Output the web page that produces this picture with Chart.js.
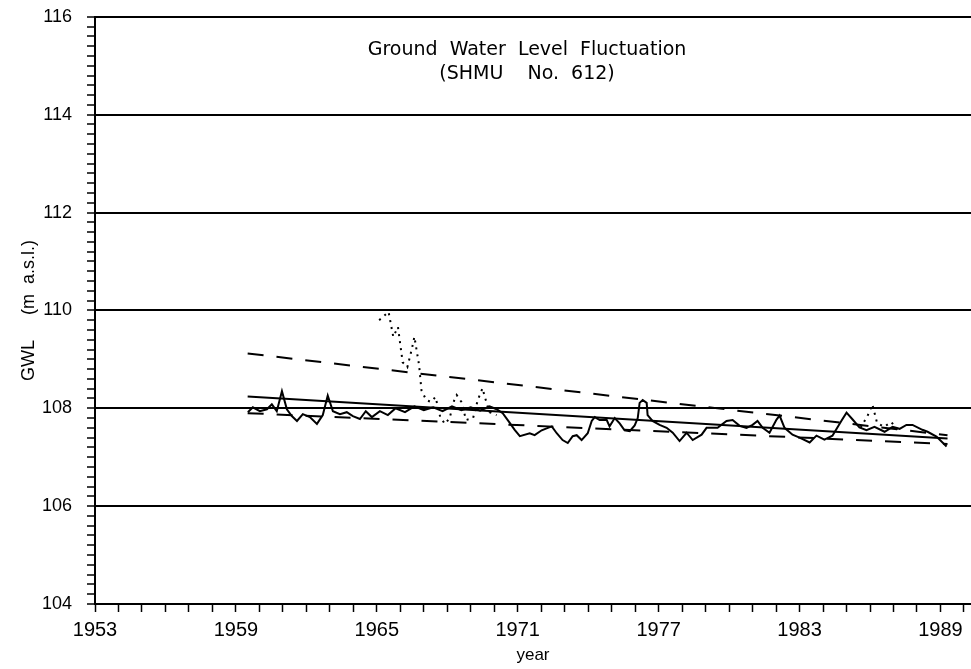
<!DOCTYPE html>
<html>
<head>
<meta charset="utf-8">
<script src="https://cdn.jsdelivr.net/npm/chart.js@4/dist/chart.umd.min.js"></script>
<style>
  html, body { margin: 0; padding: 0; background: #fff; }
  #wrap { width: 971px; height: 669px; }
</style>
</head>
<body>
<div id="wrap"><canvas id="gwlChart" width="971" height="669"></canvas></div>
<script>
// observed level (solid line)
const gwlYears = [
  1959.51, 1959.72, 1960.02, 1960.32, 1960.53, 1960.74, 1960.96, 1961.17, 1961.38, 1961.60,
  1961.85, 1962.15, 1962.45, 1962.70, 1962.91, 1963.13, 1963.43, 1963.72, 1963.98, 1964.28,
  1964.53, 1964.79, 1965.13, 1965.47, 1965.80, 1966.20, 1966.60, 1967.00, 1967.40, 1967.80,
  1968.20, 1968.60, 1969.00, 1969.40, 1969.80, 1970.10, 1970.36, 1970.66, 1970.87, 1971.09,
  1971.51, 1971.72, 1972.02, 1972.23, 1972.45, 1972.66, 1972.91, 1973.13, 1973.34, 1973.51,
  1973.72, 1973.98, 1974.15, 1974.28, 1974.49, 1974.79, 1974.91, 1975.13, 1975.34, 1975.55,
  1975.77, 1975.98, 1976.11, 1976.19, 1976.32, 1976.49, 1976.53, 1976.74, 1977.04, 1977.34,
  1977.60, 1977.89, 1978.19, 1978.45, 1978.83, 1979.04, 1979.51, 1979.89, 1980.15, 1980.45,
  1980.74, 1981.00, 1981.21, 1981.43, 1981.72, 1982.02, 1982.15, 1982.36, 1982.70, 1983.00,
  1983.43, 1983.72, 1984.06, 1984.40, 1984.79, 1985.00, 1985.26, 1985.55, 1985.85, 1986.19,
  1986.62, 1986.96, 1987.26, 1987.55, 1987.81, 1988.23, 1988.45, 1988.83, 1989.26
];
const gwlLevels = [
  107.92, 108.02, 107.94, 107.98, 108.08, 107.94, 108.35, 107.98, 107.84, 107.74,
  107.88, 107.82, 107.68, 107.86, 108.26, 107.94, 107.88, 107.92, 107.84, 107.78,
  107.94, 107.82, 107.94, 107.86, 108.00, 107.92, 108.04, 107.96, 108.02, 107.94,
  108.04, 107.96, 108.02, 107.95, 108.04, 107.98, 107.90, 107.70, 107.56, 107.43,
  107.49, 107.45, 107.55, 107.59, 107.63, 107.49, 107.35, 107.29, 107.43, 107.45,
  107.35, 107.49, 107.74, 107.82, 107.76, 107.76, 107.63, 107.80, 107.69, 107.55,
  107.53, 107.65, 107.80, 108.11, 108.17, 108.11, 107.86, 107.74, 107.66, 107.60,
  107.50, 107.33, 107.50, 107.35, 107.46, 107.60, 107.60, 107.74, 107.76, 107.64,
  107.60, 107.66, 107.74, 107.60, 107.50, 107.77, 107.85, 107.60, 107.46, 107.40,
  107.30, 107.44, 107.36, 107.44, 107.75, 107.91, 107.77, 107.61, 107.55, 107.62,
  107.52, 107.62, 107.58, 107.66, 107.66, 107.56, 107.52, 107.42, 107.22
];

// dotted record, 1965-1970
const dotYears = [
  1965.1, 1965.5, 1965.7, 1965.9, 1966.1, 1966.3, 1966.5, 1966.6, 1966.8, 1966.9,
  1967.1, 1967.3, 1967.5, 1967.7, 1967.9, 1968.1, 1968.3, 1968.4, 1968.6, 1968.8,
  1969.1, 1969.3, 1969.5, 1969.6, 1969.8, 1970.1
];
const dotLevels = [
  109.80, 109.97, 109.46, 109.66, 108.94, 108.84, 109.23, 109.46, 108.88, 108.37,
  108.17, 108.13, 108.23, 107.82, 107.68, 107.80, 108.17, 108.27, 108.13, 107.76,
  107.80, 108.17, 108.41, 108.23, 107.92, 107.86
];

// dotted record, 1985-1987
const dotYearsLate = [1985.6, 1985.9, 1986.1, 1986.3, 1986.6, 1986.9, 1987.2];
const dotLevelsLate = [107.60, 107.85, 108.08, 107.70, 107.62, 107.72, 107.55];

// trend lines
const trendYears = [1959.5, 1989.3];
const upperTrend = [109.12, 107.45];
const midTrend = [108.24, 107.38];
const lowerTrend = [107.90, 107.27];

const xTickYears = [1953, 1959, 1965, 1971, 1977, 1983, 1989];
const yTickLevels = [104, 106, 108, 110, 112, 114, 116];

const titleLines = ['Ground  Water  Level  Fluctuation', '(SHMU    No.  612)'];

Chart.defaults.font.family = "'Liberation Sans', 'DejaVu Sans', sans-serif";
Chart.defaults.color = '#000';

function pts(xs, ys) {
    return xs.map((x, i) => ({ x: x, y: ys[i] }));
}

function isLabel(list, v) {
    return list.some(t => Math.abs(t - v) < 1e-6);
}

// title written inside the plot
const innerTitle = {
    id: 'innerTitle',
    afterDraw(chart) {
        const c = chart.ctx;
        const mid = 527;
        c.save();
        c.fillStyle = '#000';
        c.font = "19px 'DejaVu Sans', sans-serif";
        c.textAlign = 'center';
        c.textBaseline = 'middle';
        c.fillText(titleLines[0], mid, 50);
        c.fillText(titleLines[1], mid, 74);
        c.restore();
    }
};

const ctx = document.getElementById('gwlChart').getContext('2d');
new Chart(ctx, {
    type: 'line',
    data: {
        datasets: [
            { data: pts(gwlYears, gwlLevels), borderColor: '#000', borderWidth: 2 },
            { data: pts(dotYears, dotLevels), borderColor: '#000', borderWidth: 2, borderDash: [2, 5] },
            { data: pts(dotYearsLate, dotLevelsLate), borderColor: '#000', borderWidth: 2, borderDash: [2, 5] },
            { data: pts(trendYears, upperTrend), borderColor: '#000', borderWidth: 2, borderDash: [16, 13] },
            { data: pts(trendYears, midTrend), borderColor: '#000', borderWidth: 2 },
            { data: pts(trendYears, lowerTrend), borderColor: '#000', borderWidth: 2, borderDash: [16, 13] }
        ]
    },
    options: {
        responsive: false,
        animation: false,
        elements: { point: { radius: 0 }, line: { tension: 0 } },
        layout: { padding: 0 },
        plugins: { legend: { display: false }, tooltip: { enabled: false } },
        scales: {
            x: {
                type: 'linear',
                min: 1953,
                max: 1990.3,
                afterFit: s => { s.height = 65; },
                border: { display: true, color: '#000', width: 2 },
                grid: { drawOnChartArea: false, drawTicks: true, tickLength: 8, tickColor: '#000', tickWidth: 1.5 },
                ticks: {
                    stepSize: 1,
                    includeBounds: false,
                    autoSkip: false,
                    maxRotation: 0,
                    padding: 6,
                    font: { size: 20 },
                    callback: v => isLabel(xTickYears, v) ? String(Math.round(v)) : ''
                },
                title: { display: true, text: 'year', font: { size: 17 }, padding: { top: 0, bottom: 3 } }
            },
            y: {
                min: 104,
                max: 116,
                afterFit: s => { s.width = 95; },
                border: { display: true, color: '#000', width: 2 },
                grid: {
                    color: c => (c.tick && isLabel(yTickLevels, c.tick.value)) ? '#000' : 'rgba(0,0,0,0)',
                    lineWidth: 2,
                    tickLength: 8,
                    tickColor: '#000',
                    tickWidth: 1.5
                },
                ticks: {
                    stepSize: 0.2,
                    autoSkip: false,
                    padding: 15,
                    font: { size: 18, lineHeight: 0.2 },
                    callback: v => isLabel(yTickLevels, v) ? String(Math.round(v)) : ''
                },
                title: { display: true, text: 'GWL     (m  a.s.l.)', font: { size: 18 }, padding: { top: 18, bottom: 0 } }
            }
        }
    },
    plugins: [innerTitle]
});
</script>
</body>
</html>
